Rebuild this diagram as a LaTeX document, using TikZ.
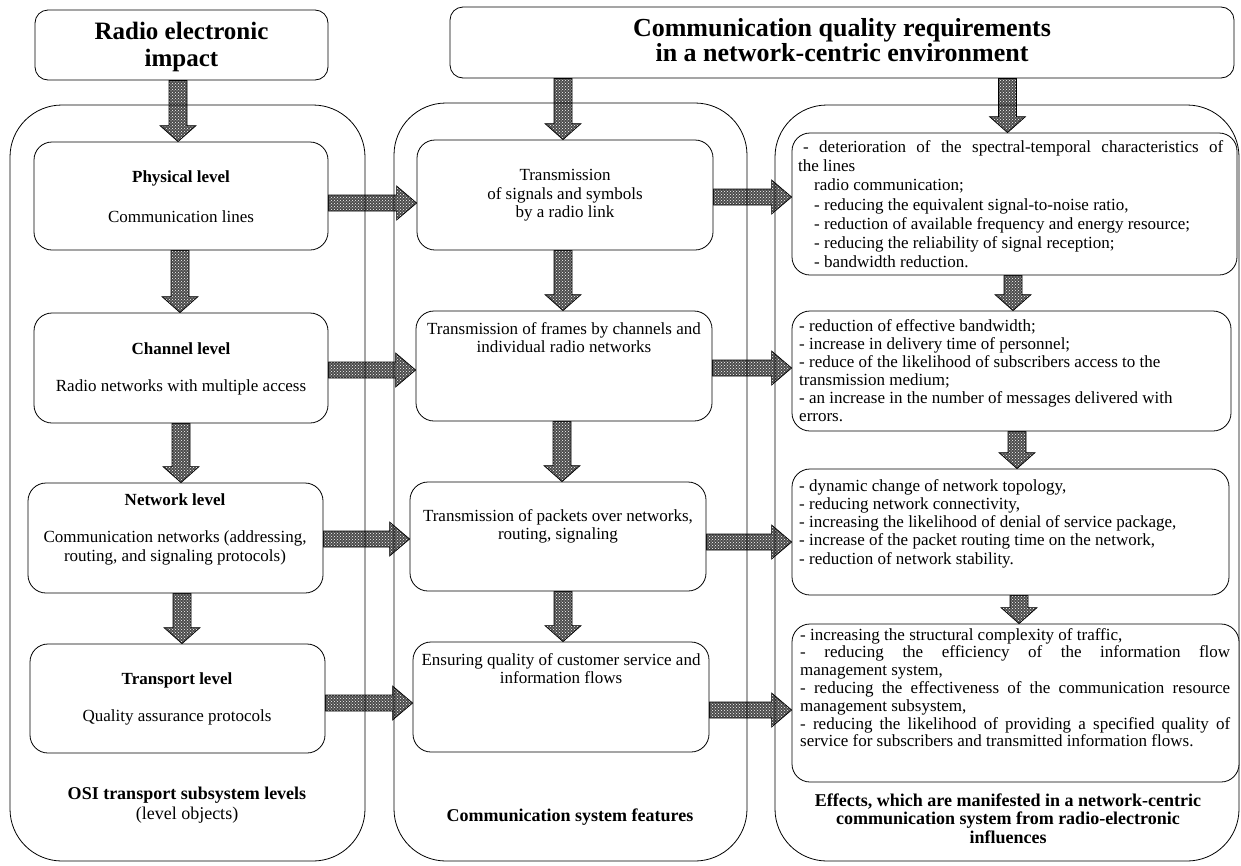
\documentclass[tikz,border=0pt]{standalone}
\usepackage{fontspec}
\setmainfont{Liberation Serif}
\usetikzlibrary{patterns,calc}
\pgfdeclarelayer{bg}
\pgfsetlayers{bg,main}
\newcommand\setfs[2]{\fontsize{#1}{#2}\selectfont}
\tikzset{
  ibox/.style={draw, rounded corners=18pt, line width=0.8pt, fill=white, inner sep=0},
  hbox/.style={draw, rounded corners=13pt, line width=0.8pt, inner sep=0},
  htxt/.style={inner sep=0, align=center, font=\setfs{25}{27}\bfseries},
  obox/.style={draw, rounded corners=52pt, line width=0.8pt, inner sep=0},
  barrow/.style={draw, line width=0.7pt, preaction={fill=black!70}, pattern=crosshatch dots, pattern color=white},
  rt/.style={inner sep=0, align=center, font=\setfs{17}{18.5}},
  bt/.style={inner sep=0, align=center, font=\setfs{17}{18.5}\bfseries},
  lt/.style={inner sep=0, align=left, anchor=north west, font=\setfs{17}{18}},
  labt/.style={inner sep=0, align=center, font=\setfs{18}{18.5}\bfseries},
}
% down block arrow: [x offset]{from}{to}
\newcommand\darr[3][0]{%
  \path[barrow] let \p1=($(#2)+(#1,0)$), \p2=($(#3)+(#1,0)$) in
    (\x2-9pt,\y1) -- (\x2-9pt,\y2+16pt) -- (\x2-18pt,\y2+16pt) -- (\x2,\y2)
    -- (\x2+18pt,\y2+16pt) -- (\x2+9pt,\y2+16pt) -- (\x2+9pt,\y1) -- cycle;}
% right block arrow: [y offset]{from}{to}
\newcommand\rarr[3][0]{%
  \path[barrow] let \p1=($(#2)+(0,#1)$), \p2=($(#3)+(0,#1)$) in
    (\x1,\y1+8pt) -- (\x2-20pt,\y1+8pt) -- (\x2-20pt,\y1+17pt) -- (\x2,\y1)
    -- (\x2-20pt,\y1-17pt) -- (\x2-20pt,\y1-8pt) -- (\x1,\y1-8pt) -- cycle;}
\begin{document}
\begin{tikzpicture}[x=1pt,y=-1pt]
\useasboundingbox (0,0) rectangle (1241,865);

% headers
\node[hbox, minimum width=293, minimum height=70] (hdrL) at (181.5,45) {};
\node[htxt] (hdrLT) at (181.5,47) {Radio electronic\\impact};
\node[hbox, minimum width=784, minimum height=71] (hdrR) at (842,42.5) {};
\node[htxt, font=\setfs{26}{25}\bfseries] (hdrRT) at (842,40)
  {Communication quality requirements\\in a network-centric environment};

% outer columns
\node[obox, minimum width=355, minimum height=756] (colL) at (187.5,483) {};
\node[obox, minimum width=353, minimum height=758] (colM) at (570.5,482) {};
\node[obox, minimum width=464, minimum height=756] (colR) at (1007,483) {};

% left inner boxes
\node[ibox, minimum width=294, minimum height=108] (phys) at (181,196) {};
\node[ibox, minimum width=294, minimum height=110] (chan) at (181,368) {};
\node[ibox, minimum width=295, minimum height=110] (netw) at (175.5,538) {};
\node[ibox, minimum width=295, minimum height=109] (trans) at (177.5,698.5) {};

\node[bt] (physA) at (181,178) {Physical level};
\node[rt] (physB) at (181,217) {Communication lines};
\node[bt] (chanA) at (181,349) {Channel level};
\node[rt] (chanB) at (181,387) {Radio networks with multiple access};
\node[bt] (netwA) at (175,500) {Network level};
\node[rt] (netwB) at (175,548) {Communication networks (addressing,\\routing, and signaling protocols)};
\node[bt] (transA) at (177,680) {Transport level};
\node[rt] (transB) at (177,717) {Quality assurance protocols};
\node[labt] (labL) at (187,795) {OSI transport subsystem levels};
\node[rt, font=\setfs{18}{18.5}] (labL2) at (187,815) {(level objects)};

% middle inner boxes
\node[ibox, minimum width=296, minimum height=110] (tsig) at (565,195) {};
\node[ibox, minimum width=296, minimum height=110] (tfrm) at (564,366) {};
\node[ibox, minimum width=296, minimum height=109] (tpkt) at (558,536.5) {};
\node[ibox, minimum width=296, minimum height=110] (qual) at (561,697) {};

\node[rt] (tsigT) at (565,195.5) {Transmission\\of signals and symbols\\by a radio link};
\node[rt] (tfrmT) at (564,337.5) {Transmission of frames by channels and\\individual radio networks};
\node[rt] (tpktT) at (558,526.5) {Transmission of packets over networks,\\routing, signaling};
\node[rt] (qualT) at (561,668.5) {Ensuring quality of customer service and\\information flows};
\node[labt] (labM) at (570,817) {Communication system features};

% right inner boxes
\node[ibox, minimum width=445, minimum height=142] (e1) at (1014.5,204) {};
\node[ibox, minimum width=439, minimum height=120] (e2) at (1011.5,371) {};
\node[ibox, minimum width=437, minimum height=126] (e3) at (1010.5,532) {};
\node[ibox, minimum width=447, minimum height=158] (e4) at (1015.5,703) {};

\node[lt, font=\setfs{17}{19.3}] (e1T) at (798,140) {%
\makebox[425pt][s]{\hspace*{5pt}- deterioration of the spectral-temporal characteristics of}\\
the lines\\
\hspace*{16pt}radio communication;\\
\hspace*{16pt}- reducing the equivalent signal-to-noise ratio,\\
\hspace*{16pt}- reduction of available frequency and energy resource;\\
\hspace*{16pt}- reducing the reliability of signal reception;\\
\hspace*{16pt}- bandwidth reduction.};

\node[lt] (e2T) at (799,319) {%
- reduction of effective bandwidth;\\
- increase in delivery time of personnel;\\
- reduce of the likelihood of subscribers access to the\\
transmission medium;\\
- an increase in the number of messages delivered with\\
errors.};

\node[lt, font=\setfs{17}{18.25}] (e3T) at (799,479) {%
- dynamic change of network topology,\\
- reducing network connectivity,\\
- increasing the likelihood of denial of service package,\\
- increase of the packet routing time on the network,\\
- reduction of network stability.};

\node[lt, font=\setfs{17}{17.8}] (e4T) at (800,628) {%
- increasing the structural complexity of traffic,\\
\makebox[430pt][s]{- reducing the efficiency of the information flow}\\
management system,\\
\makebox[430pt][s]{- reducing the effectiveness of the communication resource}\\
management subsystem,\\
\makebox[430pt][s]{- reducing the likelihood of providing a specified quality of}\\
service for subscribers and transmitted information flows.};

\node[labt] (labR) at (1008,818.5) {Effects, which are manifested in a network-centric\\communication system from radio-electronic\\influences};

% arrows
\begin{pgfonlayer}{bg}
\darr[-3]{hdrL.south}{phys.north}
\darr[-1]{phys.south}{chan.north}
\darr[5.5]{chan.south}{netw.north}
\darr[4.5]{netw.south}{trans.north}
\darr[-2]{hdrR.south}{tsig.north}
\darr[-1]{tsig.south}{tfrm.north}
\darr[4]{tfrm.south}{tpkt.north}
\darr[2]{tpkt.south}{qual.north}
\darr[-7]{hdrR.south}{e1.north}
\darr[1.5]{e1.south}{e2.north}
\darr[6.5]{e2.south}{e3.north}
\darr[3.5]{e3.south}{e4.north}
\rarr[7]{phys.east}{tsig.west}
\rarr[2]{chan.east}{tfrm.west}
\rarr[1]{netw.east}{tpkt.west}
\rarr[4.5]{trans.east}{qual.west}
\rarr[2]{tsig.east}{e1.west}
\rarr[2]{tfrm.east}{e2.west}
\rarr[5.5]{tpkt.east}{e3.west}
\rarr[13]{qual.east}{e4.west}
\end{pgfonlayer}
\end{tikzpicture}
\end{document}
